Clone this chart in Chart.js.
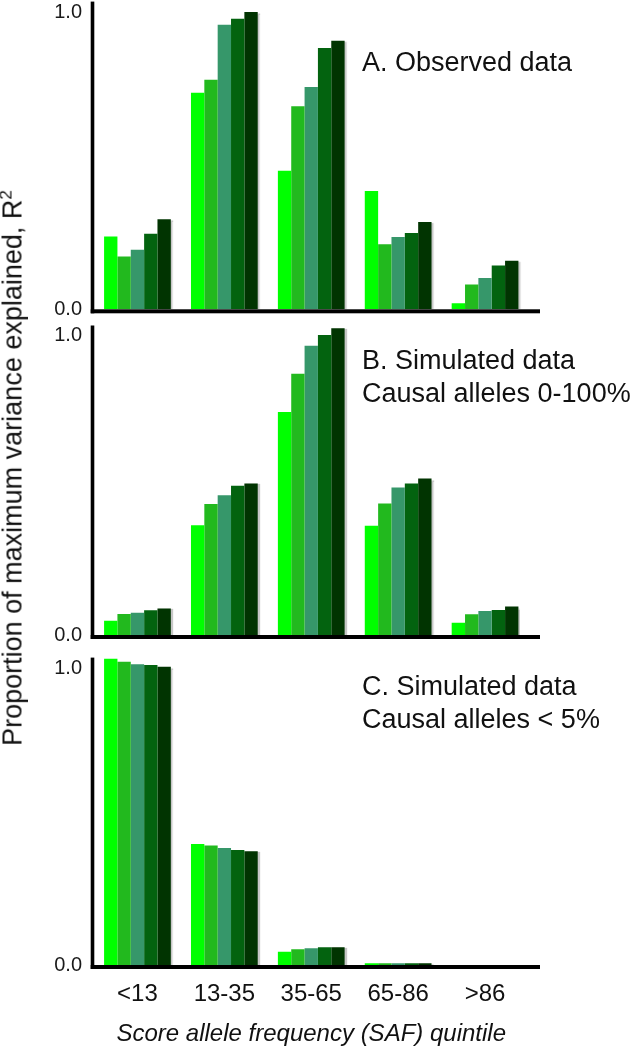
<!DOCTYPE html>
<html>
<head>
<meta charset="utf-8">
<script src="https://cdn.jsdelivr.net/npm/chart.js@4/dist/chart.umd.min.js"></script>
<style>
  body { margin: 0; background: #fff; width: 639px; height: 1050px; position: relative; overflow: hidden; }
  canvas { position: absolute; left: 0; }
  #yTitle {
    position: absolute; left: 13.4px; top: 467.5px;
    transform: translate(-50%, -50%) rotate(-90deg);
    font: 27px "Liberation Sans", Arial, sans-serif; line-height: 27px;
    white-space: nowrap; color: #111;
  }
  #yTitle sup { font-size: 17px; line-height: 0; vertical-align: 10px; }
</style>
</head>
<body>
<canvas id="panelA" width="639" height="320" style="top:0px"></canvas>
<canvas id="panelB" width="639" height="330" style="top:320px"></canvas>
<canvas id="panelC" width="639" height="400" style="top:650px"></canvas>
<div id="yTitle">Proportion of maximum variance explained, R<sup>2</sup></div>
<script>
// SAF quintiles
var categories = ["<13", "13-35", "35-65", "65-86", ">86"];
var barColors = ["#00ff00", "#22b91e", "#36976a", "#03630f", "#013401"];

// A. observed data, one array per bar position inside a group
var observed1 = [0.245, 0.728, 0.466, 0.398, 0.020];
var observed2 = [0.178, 0.772, 0.683, 0.219, 0.083];
var observed3 = [0.200, 0.957, 0.748, 0.243, 0.105];
var observed4 = [0.254, 0.977, 0.879, 0.257, 0.147];
var observed5 = [0.303, 1.000, 0.903, 0.294, 0.163];

// B. simulated, causal alleles 0-100%
var simAll1 = [0.048, 0.367, 0.746, 0.365, 0.041];
var simAll2 = [0.070, 0.438, 0.874, 0.440, 0.069];
var simAll3 = [0.074, 0.467, 0.967, 0.493, 0.080];
var simAll4 = [0.083, 0.499, 1.003, 0.507, 0.084];
var simAll5 = [0.089, 0.507, 1.026, 0.523, 0.095];

// C. simulated, causal alleles < 5%
var simRare1 = [1.031, 0.407, 0.045, 0.006, 0];
var simRare2 = [1.021, 0.402, 0.053, 0.006, 0];
var simRare3 = [1.013, 0.394, 0.056, 0.006, 0];
var simRare4 = [1.010, 0.387, 0.060, 0.006, 0];
var simRare5 = [1.004, 0.383, 0.060, 0.006, 0];

var yTicks = [0, 1];

var fontFamily = '"Liberation Sans", Arial, Helvetica, sans-serif';

// thick black axes, the x line runs a bit past the last group
var axisLines = {
    id: "axisLines",
    afterDatasetsDraw(chart) {
        var ctx = chart.ctx;
        var area = chart.chartArea;
        ctx.save();
        ctx.fillStyle = "#000";
        ctx.fillRect(area.left - 3.3, area.top, 3.6, area.bottom - area.top + 4);
        ctx.fillRect(area.left - 3.3, area.bottom, 540 - (area.left - 3.3), 4);
        ctx.restore();
    }
};

// light drop shadow on the right of each group (last dataset only)
var barShadow = {
    id: "barShadow",
    beforeDatasetDraw(chart, args) {
        if (args.index !== 4) return;
        var ctx = chart.ctx;
        ctx.save();
        ctx.shadowColor = "rgba(0,0,0,0.22)";
        ctx.shadowOffsetX = 2;
        ctx.shadowOffsetY = 1;
        ctx.shadowBlur = 1;
    },
    afterDatasetDraw(chart, args) {
        if (args.index !== 4) return;
        chart.ctx.restore();
    }
};

var panelNote = {
    id: "panelNote",
    afterDraw(chart, args, opts) {
        var ctx = chart.ctx;
        ctx.save();
        ctx.fillStyle = "#111";
        ctx.font = "27px " + fontFamily;
        ctx.textAlign = "left";
        ctx.textBaseline = "alphabetic";
        opts.lines.forEach((line, i) => {
            ctx.fillText(line, opts.x, opts.y[i]);
        });
        ctx.restore();
    }
};

function drawPanel(canvasId, seriesList, noteLines, noteY, padTop, xHeight, showX) {

    var datasets = seriesList.map((values, i) => {
        return {
            label: "Series " + (i + 1),
            data: values,
            backgroundColor: barColors[i],
            borderWidth: 0,
            categoryPercentage: 0.768,
            barPercentage: 1.0
        };
    });

    new Chart(document.getElementById(canvasId), {
        type: "bar",
        data: {
            labels: categories,
            datasets: datasets
        },
        plugins: [barShadow, axisLines, panelNote],
        options: {
            responsive: false,
            animation: false,
            layout: {
                autoPadding: false,
                padding: { top: padTop, right: 110.5, bottom: 0, left: 0 }
            },
            plugins: {
                legend: { display: false },
                tooltip: { enabled: false },
                panelNote: { lines: noteLines, x: 362, y: noteY }
            },
            scales: {
                x: {
                    grid: { display: false, drawTicks: false },
                    border: { display: false },
                    ticks: {
                        display: showX,
                        color: "#111",
                        padding: 15,
                        font: { family: fontFamily, size: 24 }
                    },
                    title: {
                        display: showX,
                        text: "Score allele frequency (SAF) quintile",
                        color: "#111",
                        padding: { top: 4, bottom: 1 },
                        font: { family: fontFamily, size: 24, style: "italic" }
                    },
                    afterFit: (scale) => { scale.height = xHeight; }
                },
                y: {
                    min: 0,
                    max: 1.035,
                    grid: { display: false, drawTicks: false },
                    border: { display: false },
                    afterBuildTicks: (scale) => {
                        scale.ticks = yTicks.map((v) => ({ value: v }));
                    },
                    ticks: {
                        color: "#1a1a1a",
                        padding: 12,
                        font: { family: fontFamily, size: 20 },
                        callback: (v) => Number(v).toFixed(1)
                    },
                    afterFit: (scale) => {
                        scale.width = 94;
                        scale.paddingTop = 0;
                        scale.paddingBottom = 0;
                    }
                }
            }
        }
    });
}

drawPanel("panelA",
    [observed1, observed2, observed3, observed4, observed5],
    ["A. Observed data"], [70.7], 1.6, 10.7, false);

drawPanel("panelB",
    [simAll1, simAll2, simAll3, simAll4, simAll5],
    ["B. Simulated data", "Causal alleles 0-100%"], [49.3, 81.7], 5.5, 15, false);

drawPanel("panelC",
    [simRare1, simRare2, simRare3, simRare4, simRare5],
    ["C. Simulated data", "Causal alleles < 5%"], [45, 78.3], 7.6, 85, true);
</script>
</body>
</html>
